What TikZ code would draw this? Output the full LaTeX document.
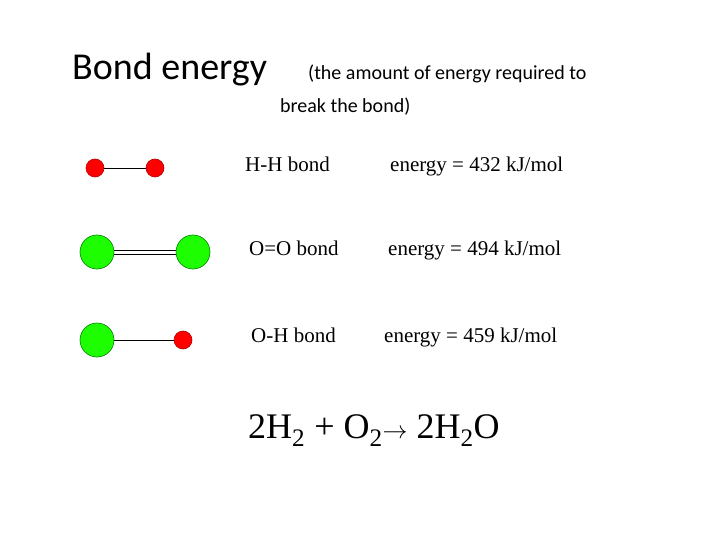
\documentclass[tikz,border=0pt]{standalone}
\usepackage{fontspec}
\setmainfont{Liberation Serif}
\newfontfamily\calfont{Carlito}
\begin{document}
\begin{tikzpicture}[x=1pt,y=-1pt,
  hatom/.style={circle,fill=red,draw=red!70!black,line width=0.6pt,minimum size=18pt,inner sep=0pt},
  oatom/.style={circle,fill=green!85!lime,draw=green!50!black,line width=0.6pt,minimum size=34pt,inner sep=0pt},
  lab/.style={anchor=base west,inner sep=0pt,font=\fontsize{21}{24}\selectfont},
  bondline/.style={line width=0.6pt}]
\useasboundingbox (0,0) rectangle (720,540);
\node[anchor=base west,inner sep=0pt,font=\calfont\fontsize{38}{42}\selectfont] (t1) at (72,80) {Bond energy};
\node[anchor=base west,inner sep=0pt,font=\calfont\fontsize{20}{24}\selectfont] (t2) at (308,80) {(the amount of energy required to};
\node[anchor=base west,inner sep=0pt,font=\calfont\fontsize{20}{24}\selectfont] (t3) at (280,113) {break the bond)};
% H-H
\node[hatom] (h1) at (95,168) {};
\node[hatom] (h2) at (155,168) {};
\draw[bondline] (h1) -- (h2);
% O=O
\node[oatom] (o1) at (97,252) {};
\node[oatom] (o2) at (193,252) {};
\draw[bondline] ([yshift=-2pt]o1.east) -- ([yshift=-2pt]o2.west);
\draw[bondline] ([yshift=2pt]o1.east) -- ([yshift=2pt]o2.west);
% O-H
\node[oatom] (o3) at (97,340) {};
\node[hatom] (h3) at (183,340) {};
\draw[bondline] (o3) -- (h3);
\node[lab] (l1) at (245,172) {H-H bond};
\node[lab] (e1) at (390,172) {energy = 432 kJ/mol};
\node[lab] (l2) at (249,255) {O=O bond};
\node[lab] (e2) at (388,255) {energy = 494 kJ/mol};
\node[lab] (l3) at (251,342) {O-H bond};
\node[lab] (e3) at (384,342) {energy = 459 kJ/mol};
\node[anchor=base west,inner sep=0pt,font=\fontsize{36}{40}\selectfont] (eq) at (248,438)
  {2H\textsubscript{2} + O\textsubscript{2}$\rightarrow$ 2H\textsubscript{2}O};
\end{tikzpicture}
\end{document}
